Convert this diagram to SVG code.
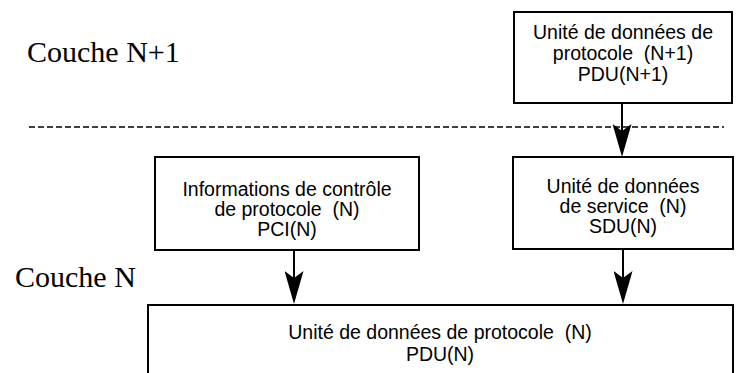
<svg xmlns="http://www.w3.org/2000/svg" width="738" height="373" viewBox="0 0 738 373">
<style>
.box{fill:#fff;stroke:#000;stroke-width:2}
.t{font-family:"Liberation Sans",Arial,sans-serif;font-size:19.5px;text-anchor:middle;fill:#000;white-space:pre}
.layer{font-family:"Liberation Serif","Times New Roman",serif;font-size:30px;fill:#000}
.conn{stroke:#000;stroke-width:2;fill:none}
.dash{stroke:#000;stroke-width:1.5;stroke-dasharray:6 3;fill:none}
</style>
<defs>
<marker id="ah" markerUnits="userSpaceOnUse" markerWidth="33" markerHeight="19" viewBox="0 0 33 19" refX="26" refY="9.5" orient="auto">
<path d="M0,0 L7,9.5 L0,19 L33,9.5 Z" fill="#000"/>
</marker>
</defs>
<text class="layer" x="27" y="62">Couche N+1</text>
<text class="layer" x="15" y="287">Couche N</text>
<line class="dash" x1="29" y1="127" x2="724" y2="127"/>
<g id="pdu-n1">
<rect class="box" x="514" y="12" width="218" height="91"/>
<text class="t" x="623" y="39" xml:space="preserve">Unité de données de</text>
<text class="t" x="623" y="60" xml:space="preserve">protocole  (N+1)</text>
<text class="t" x="623" y="81" xml:space="preserve">PDU(N+1)</text>
</g>
<g id="pci-n">
<rect class="box" x="155" y="157" width="264" height="93"/>
<text class="t" x="287" y="196" xml:space="preserve">Informations de contrôle</text>
<text class="t" x="287" y="216" xml:space="preserve">de protocole  (N)</text>
<text class="t" x="287" y="236" xml:space="preserve">PCI(N)</text>
</g>
<g id="sdu-n">
<rect class="box" x="513" y="157" width="220" height="92"/>
<text class="t" x="623" y="193" xml:space="preserve">Unité de données</text>
<text class="t" x="623" y="213" xml:space="preserve">de service  (N)</text>
<text class="t" x="623" y="233" xml:space="preserve">SDU(N)</text>
</g>
<g id="pdu-n">
<rect class="box" x="148" y="305" width="585" height="80"/>
<text class="t" x="440" y="339" xml:space="preserve">Unité de données de protocole  (N)</text>
<text class="t" x="440" y="361" xml:space="preserve">PDU(N)</text>
</g>
<g id="connectors">
<line class="conn" x1="622" y1="103" x2="622" y2="150" marker-end="url(#ah)"/>
<line class="conn" x1="294" y1="250" x2="294" y2="297" marker-end="url(#ah)"/>
<line class="conn" x1="623" y1="249" x2="623" y2="297" marker-end="url(#ah)"/>
</g>
</svg>
